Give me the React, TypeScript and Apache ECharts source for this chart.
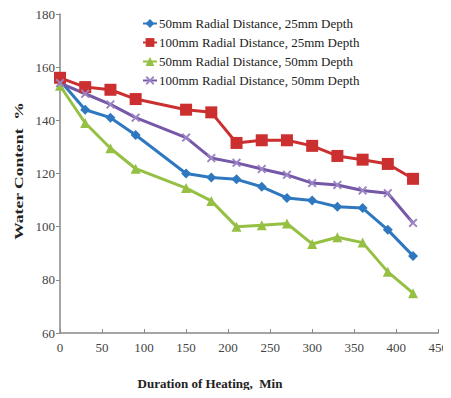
import React, { useEffect, useRef } from "react";
import * as echarts from "echarts";

const minutes = [0, 30, 60, 90, 150, 180, 210, 240, 270, 300, 330, 360, 390, 420];
const blue50x25 = [155, 144, 141, 134.5, 120, 118.5, 117.8, 115, 110.8, 109.8, 107.5, 107, 98.8, 89];
const red100x25 = [156, 152.5, 151.5, 148, 144, 143, 131.5, 132.5, 132.5, 130.4, 126.6, 125.2, 123.6, 118];
const green50x50 = [153, 139, 129.5, 121.8, 114.5, 109.7, 100, 100.5, 101.2, 93.5, 96, 94, 83, 75];
const purple100x50 = [154, 150, 146, 141, 133.5, 125.8, 124, 121.7, 119.5, 116.4, 115.7, 113.6, 112.6, 101.4];
const seriesNames = [
  "50mm Radial Distance, 25mm Depth",
  "100mm Radial Distance, 25mm Depth",
  "50mm Radial Distance, 50mm Depth",
  "100mm Radial Distance, 50mm Depth",
];

const crossPath =
  "path://M0,1.5L1.5,0L5,3.5L8.5,0L10,1.5L6.5,5L10,8.5L8.5,10L5,6.5L1.5,10L0,8.5L3.5,5Z";

export default function App() {
  const ref = useRef<HTMLDivElement>(null);
  useEffect(() => {
    if (!ref.current) return;
    const chart = echarts.init(ref.current, undefined, { renderer: "svg" });
    const font = "'Liberation Serif', 'DejaVu Serif', serif";
    const mk = (vals: number[]) => minutes.map((m, i) => [m, vals[i]]);
    const colors = ["#2f78c0", "#cc2f2f", "#95c043", "#7658a8"];
    chart.setOption({
      animation: false,
      backgroundColor: "#ffffff",
      grid: { left: 60, top: 14, right: 4, bottom: 65, containLabel: false },
      legend: {
        orient: "vertical",
        left: 137,
        top: 12,
        itemGap: 6,
        itemWidth: 14,
        itemHeight: 11,
        textStyle: { fontFamily: font, fontSize: 13, color: "#222", padding: [0, 0, 0, -3] },
        data: seriesNames,
      },
      xAxis: {
        type: "value",
        min: 0,
        max: 450,
        interval: 50,
        splitLine: { show: false },
        axisLine: { lineStyle: { color: "#888", width: 1.5 } },
        axisTick: { inside: true, length: 4, lineStyle: { color: "#888" } },
        axisLabel: { fontFamily: font, fontSize: 13, color: "#444", margin: 8 },
      },
      yAxis: {
        type: "value",
        min: 60,
        max: 180,
        interval: 20,
        splitLine: { show: false },
        axisLine: { show: true, lineStyle: { color: "#888", width: 1.5 } },
        axisTick: { show: true, length: 4, lineStyle: { color: "#888" } },
        axisLabel: { fontFamily: font, fontSize: 13, color: "#444", margin: 5 },
      },
      graphic: {
        elements: [
          {
            type: "text",
            x: 210,
            y: 383,
            style: {
              text: "Duration of Heating,  Min",
              font: `bold 13px ${font}`,
              fill: "#222",
              textAlign: "center",
              textVerticalAlign: "middle",
            },
          },
          {
            type: "text",
            x: 18,
            y: 171,
            rotation: Math.PI / 2,
            scaleX: 1.35,
            style: {
              text: "Water Content  %",
              font: `bold 13px ${font}`,
              fill: "#222",
              textAlign: "center",
              textVerticalAlign: "middle",
            },
          },
        ],
      },
      series: [
        {
          name: seriesNames[0],
          type: "line",
          data: mk(blue50x25),
          symbol: "diamond",
          symbolSize: 10,
          lineStyle: { width: 3, color: colors[0] },
          itemStyle: { color: colors[0] },
        },
        {
          name: seriesNames[1],
          type: "line",
          data: mk(red100x25),
          symbol: "rect",
          symbolSize: 12,
          lineStyle: { width: 3, color: colors[1] },
          itemStyle: { color: colors[1] },
        },
        {
          name: seriesNames[2],
          type: "line",
          data: mk(green50x50),
          symbol: "triangle",
          symbolSize: 10,
          lineStyle: { width: 3, color: colors[2] },
          itemStyle: { color: colors[2] },
        },
        {
          name: seriesNames[3],
          type: "line",
          data: mk(purple100x50),
          symbol: crossPath,
          symbolSize: 9,
          lineStyle: { width: 3, color: colors[3] },
          itemStyle: { color: "#9a84c4" },
        },
      ],
    });
    return () => chart.dispose();
  }, []);
  return <div ref={ref} style={{ width: 451, height: 398, margin: -8 }} />;
}
